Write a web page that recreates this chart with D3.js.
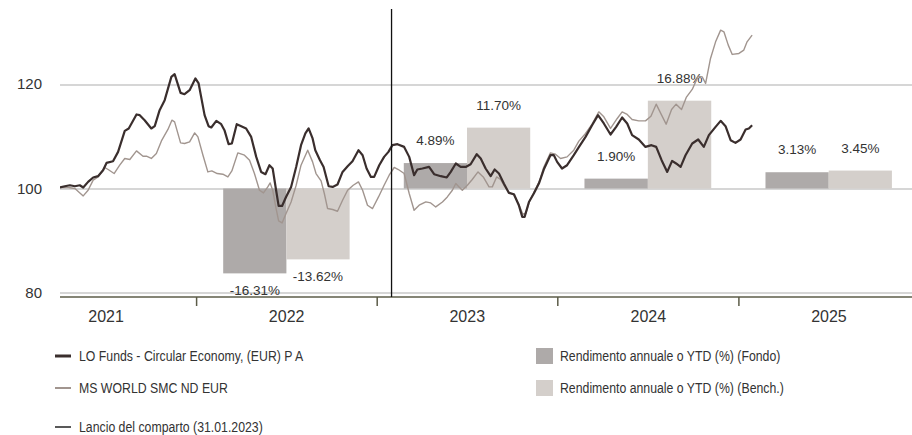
<!DOCTYPE html>
<html lang="it">
<head>
<meta charset="utf-8">
<title>LO Funds - Circular Economy</title>
<script src="https://d3js.org/d3.v7.min.js"></script>
<style>
  body { margin: 0; background: #fff; }
  svg { display: block; }
  .tick text { font-family: "Liberation Sans", Arial, sans-serif; fill: #333; }
  .lab { font-family: "Liberation Sans", Arial, sans-serif; font-size: 13.5px; fill: #333; }
  .leg { font-family: "Liberation Sans", Arial, sans-serif; font-size: 15px; fill: #333; }
</style>
</head>
<body>
<svg width="912" height="435"></svg>
<script>
// performance index (base 100), time as decimal years
var fundT = [2021.246,2021.273,2021.301,2021.329,2021.356,2021.375,2021.402,2021.430,2021.457,2021.485,
  2021.504,2021.540,2021.568,2021.605,2021.627,2021.670,2021.688,2021.715,2021.752,2021.771,
  2021.798,2021.826,2021.863,2021.881,2021.914,2021.936,2021.964,2021.996,
  2022.014,2022.047,2022.069,2022.084,2022.112,2022.139,2022.157,2022.180,2022.198,2022.225,
  2022.250,2022.277,2022.305,2022.333,2022.360,2022.384,2022.406,2022.424,2022.443,2022.457,
  2022.476,2022.498,2022.526,2022.554,2022.581,2022.605,2022.623,2022.645,2022.660,2022.686,
  2022.706,2022.734,2022.756,2022.783,2022.811,2022.839,2022.866,2022.899,2022.922,2022.944,
  2022.968,2022.986,
  2023.014,2023.041,2023.065,2023.087,2023.115,2023.152,2023.180,2023.207,2023.225,2023.253,
  2023.290,2023.318,2023.355,2023.388,2023.410,2023.438,2023.465,2023.493,2023.520,2023.554,
  2023.576,2023.603,2023.631,2023.653,2023.677,2023.704,2023.732,2023.760,2023.787,2023.806,
  2023.819,2023.843,2023.870,2023.898,2023.925,2023.962,2023.981,2023.999,
  2024.026,2024.054,2024.091,2024.119,2024.156,2024.192,2024.225,2024.257,2024.294,2024.325,
  2024.358,2024.386,2024.413,2024.450,2024.487,2024.520,2024.546,2024.576,2024.607,2024.634,
  2024.656,2024.681,2024.708,2024.745,2024.778,2024.809,2024.837,2024.874,2024.902,2024.929,
  2024.957,2024.984,
  2025.012,2025.040,2025.058,2025.076];
var fundV = [100.19,100.44,100.63,100.44,100.63,100.19,101.27,102.12,102.37,103.52,
  104.92,105.25,107.04,111.08,111.54,114.23,114.10,113.13,111.54,111.98,
  115.06,116.98,121.46,121.98,118.38,118.13,118.90,121.15,
  120.19,114.10,111.98,111.73,113.00,112.37,111.21,108.52,108.65,112.37,
  111.98,111.54,109.92,106.08,103.19,102.75,104.48,103.85,99.67,96.65,
  96.65,98.38,100.31,104.15,108.33,110.58,111.54,109.62,107.37,105.44,
  104.15,100.44,100.31,100.77,103.19,104.29,105.25,107.37,106.40,103.85,
  102.23,102.23,
  104.48,106.08,107.04,108.33,108.52,108.00,106.08,102.56,103.65,103.85,
  104.15,102.75,102.37,102.12,103.19,104.81,104.15,104.15,104.67,106.60,
  105.77,103.85,102.37,103.65,102.88,100.96,99.15,98.90,96.79,94.54,
  94.54,97.42,99.04,100.96,103.65,106.40,106.40,105.12,
  103.85,104.48,106.40,107.94,109.92,112.17,114.10,112.50,110.38,111.85,
  113.65,112.50,110.25,109.42,108.00,108.33,108.00,105.44,103.19,105.31,
  104.81,104.15,106.40,108.65,109.42,108.00,110.25,111.85,113.00,111.98,
  109.29,108.77,
  109.42,111.35,111.54,112.17];

var benchT = [2021.246,2021.292,2021.329,2021.375,2021.402,2021.430,2021.457,2021.494,2021.513,2021.546,
  2021.577,2021.605,2021.633,2021.670,2021.706,2021.725,2021.752,2021.780,2021.808,2021.844,
  2021.866,2021.881,2021.914,2021.936,2021.964,2021.992,
  2022.010,2022.038,2022.065,2022.087,2022.117,2022.148,2022.176,2022.198,2022.231,2022.268,
  2022.296,2022.323,2022.351,2022.373,2022.397,2022.410,2022.424,2022.443,2022.457,2022.476,
  2022.498,2022.526,2022.554,2022.581,2022.618,2022.645,2022.664,2022.692,2022.710,2022.728,
  2022.756,2022.783,2022.811,2022.839,2022.870,2022.899,2022.922,2022.949,2022.977,
  2023.010,2023.041,2023.069,2023.097,2023.120,2023.152,2023.180,2023.207,2023.235,2023.272,
  2023.299,2023.327,2023.364,2023.391,2023.419,2023.438,2023.456,2023.474,2023.502,2023.529,
  2023.561,2023.590,2023.622,2023.640,2023.664,2023.686,2023.704,2023.732,2023.760,2023.787,
  2023.809,2023.826,2023.848,2023.876,2023.903,2023.925,2023.962,2023.990,
  2024.018,2024.054,2024.091,2024.119,2024.156,2024.192,2024.229,2024.257,2024.294,2024.331,
  2024.358,2024.386,2024.413,2024.450,2024.487,2024.517,2024.546,2024.576,2024.601,2024.631,
  2024.656,2024.686,2024.712,2024.745,2024.778,2024.800,2024.819,2024.846,2024.874,2024.902,
  2024.920,2024.944,2024.966,
  2025.003,2025.030,2025.048,2025.076];
var benchV = [100.19,100.19,100.00,98.58,99.67,101.60,102.23,104.04,103.65,102.88,
  104.48,105.77,105.58,107.23,106.21,106.21,105.77,106.73,109.15,111.35,
  113.13,112.81,108.77,108.65,108.96,110.69,
  109.92,106.40,103.19,103.38,102.88,102.75,102.23,103.38,106.85,106.40,
  105.44,102.88,99.67,99.15,100.31,101.08,99.67,96.15,93.77,93.38,
  95.19,97.42,100.63,104.48,107.37,105.12,102.88,101.46,99.04,96.15,
  95.96,95.63,97.75,99.67,100.63,101.27,99.67,96.79,96.15,
  98.38,100.63,102.56,104.04,103.65,102.88,99.04,95.83,96.79,97.42,
  97.23,96.46,97.42,98.38,99.67,100.96,100.31,99.67,100.63,101.73,
  103.19,102.23,100.31,100.31,102.23,101.73,100.63,99.29,98.71,96.98,
  95.06,95.25,97.75,99.67,101.60,104.10,106.85,106.60,
  105.77,106.08,107.37,109.10,110.58,112.37,114.73,113.77,111.54,113.46,
  114.73,114.23,113.27,113.00,113.00,113.90,116.21,114.10,112.37,115.19,
  116.21,115.19,117.50,119.04,121.60,121.46,120.19,125.00,128.19,130.44,
  130.12,127.56,125.77,
  125.96,126.60,128.19,129.48];

// annual / YTD returns (%)
var years = [2021, 2022, 2023, 2024, 2025];
var retYears = [2022, 2023, 2024, 2025];
var retFund = [-16.31, 4.89, 1.90, 3.13];
var retBench = [-13.62, 11.70, 16.88, 3.45];
var yTicks = [80, 100, 120];
var launchDate = "2023-01-31";

var legendLines = ["LO Funds - Circular Economy, (EUR) P A", "MS WORLD SMC ND EUR", "Lancio del comparto (31.01.2023)"];
var legendBars = ["Rendimento annuale o YTD (%) (Fondo)", "Rendimento annuale o YTD (%) (Bench.)"];

var cFund = "#3a2e2d", cBench = "#a1958f", cBarFund = "#aeaaa9", cBarBench = "#d4cfcb";

function toDate(t) {
  var yr = Math.floor(t), a = new Date(yr, 0, 1), b = new Date(yr + 1, 0, 1);
  return new Date(+a + (t - yr) * (b - a));
}

var svg = d3.select("svg"),
    pLeft = 60, pRight = 912, pTop = 9, pBottom = 297;

var x = d3.scaleTime()
    .domain([new Date(2021, 0, 1), new Date(2026, 0, 1)])
    .range([15.5, 919]);
var y = d3.scaleLinear().domain([79.15, 134.5]).range([pBottom, pTop]);

svg.append("defs").append("clipPath").attr("id", "plot")
  .append("rect").attr("x", pLeft).attr("y", 0).attr("width", pRight - pLeft).attr("height", pBottom);

// gridlines + y labels
var gy = svg.append("g").attr("transform", "translate(" + pLeft + ",0)")
  .call(d3.axisLeft(y).tickValues(yTicks).tickSize(-(pRight - pLeft)).tickPadding(18));
gy.select(".domain").remove();
gy.selectAll(".tick line").attr("stroke", "#c9c9c9").attr("stroke-width", 1.5);
gy.selectAll(".tick text").style("font-size", "15px").attr("dy", "0.3em");

// bars
var inner = d3.scaleBand().domain(["f", "b"]).range([0.15, 0.85]);
var bars = svg.append("g");
retYears.forEach(function(yr, i) {
  var x0 = x(new Date(yr, 0, 1)), w = x(new Date(yr + 1, 0, 1)) - x0;
  [["f", retFund[i], cBarFund], ["b", retBench[i], cBarBench]].forEach(function(d) {
    var bx = x0 + inner(d[0]) * w, bw = inner.bandwidth() * w;
    var v = 100 + d[1];
    bars.append("rect")
      .attr("x", bx).attr("width", bw)
      .attr("y", Math.min(y(v), y(100)))
      .attr("height", Math.abs(y(v) - y(100)))
      .attr("fill", d[2]);
    bars.append("text").attr("class", "lab")
      .attr("x", bx + bw / 2)
      .attr("y", d[1] >= 0 ? y(v) - 18 : y(v) + 22)
      .attr("text-anchor", "middle")
      .text(d[1].toFixed(2) + "%");
  });
});

// x axis
svg.append("line").attr("x1", pLeft).attr("x2", pRight).attr("y1", pBottom).attr("y2", pBottom)
  .attr("stroke", "#5c5c48").attr("stroke-width", 1.5);
var gx = svg.append("g").attr("transform", "translate(0," + pBottom + ")")
  .call(d3.axisBottom(x).tickValues(retYears.map(function(yr) { return new Date(yr, 0, 1); }))
    .tickSize(9).tickFormat(""));
gx.select(".domain").remove();
gx.selectAll(".tick line").attr("stroke", "#5c5c48").attr("stroke-width", 1.5);
var gl = svg.append("g").attr("transform", "translate(0," + pBottom + ")")
  .call(d3.axisBottom(x).tickValues(years.map(function(yr) { return new Date(yr, 6, 2); }))
    .tickSize(0).tickPadding(14).tickFormat(d3.timeFormat("%Y")));
gl.select(".domain").remove();
gl.selectAll(".tick text").style("font-size", "16px");

// lines
var line = d3.line()
  .x(function(d) { return x(toDate(d[0])); })
  .y(function(d) { return y(d[1]); });
var lines = svg.append("g").attr("clip-path", "url(#plot)");
lines.append("path").datum(d3.zip(benchT, benchV))
  .attr("fill", "none").attr("stroke", cBench).attr("stroke-width", 1.4).attr("stroke-linejoin", "round")
  .attr("d", line);
lines.append("path").datum(d3.zip(fundT, fundV))
  .attr("fill", "none").attr("stroke", cFund).attr("stroke-width", 2.2).attr("stroke-linejoin", "round")
  .attr("d", line);

// launch line
var xl = x(d3.timeParse("%Y-%m-%d")(launchDate));
svg.append("line").attr("x1", xl).attr("x2", xl).attr("y1", pTop).attr("y2", pBottom)
  .attr("stroke", "#111").attr("stroke-width", 1.3);

// legend (condensed text)
var legY = [356, 388, 427];
var legStyle = [[cFund, 3], [cBench, 2], ["#222", 1.5]];
function legText(x0, y0, t) {
  svg.append("text").attr("class", "leg")
    .attr("transform", "translate(" + x0 + "," + y0 + ") scale(0.82,1)")
    .attr("dy", "0.36em").text(t);
}
legendLines.forEach(function(t, i) {
  svg.append("line").attr("x1", 55).attr("x2", 71).attr("y1", legY[i]).attr("y2", legY[i])
    .attr("stroke", legStyle[i][0]).attr("stroke-width", legStyle[i][1]);
  legText(79, legY[i], t);
});
var barCols = [cBarFund, cBarBench];
legendBars.forEach(function(t, i) {
  svg.append("rect").attr("x", 536).attr("y", legY[i] - 8).attr("width", 17).attr("height", 16)
    .attr("fill", barCols[i]);
  legText(560, legY[i], t);
});
</script>
</body>
</html>
